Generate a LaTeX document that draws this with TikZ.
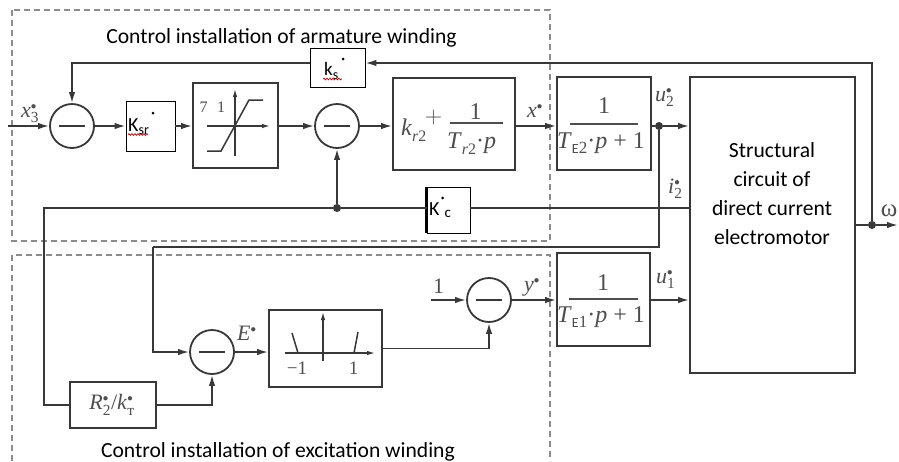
\documentclass[tikz,border=0pt]{standalone}
\usepackage{fix-cm}
\usepackage{amsmath}
\usepackage{fontspec}
\setmainfont{Liberation Serif}
\newfontfamily\calib{Carlito}
\usetikzlibrary{arrows.meta,decorations.pathmorphing}
\definecolor{ink}{HTML}{383838}
\definecolor{typeset}{HTML}{4E4E4E}
\definecolor{frame}{HTML}{8C8C8C}
\newcommand\sd{{\scriptscriptstyle\bullet}}
\newcommand\fs[1]{\fontsize{#1}{#1}\selectfont}

\begin{document}
\begin{tikzpicture}[x=1pt,y=-1pt,
  wire/.style={draw=ink,line width=1.7pt},
  sig/.style={wire,-{Latex[length=11pt,width=6.5pt]}},
  small sig/.style={draw=ink,line width=1.3pt,-{Latex[length=8pt,width=4.5pt]}},
  blockbox/.style={rectangle,draw=ink,line width=1.8pt,inner sep=0pt},
  gainbox/.style={rectangle,draw=black,fill=white,line width=0.8pt,inner sep=0pt},
  sumnode/.style={circle,draw=ink,line width=1.8pt,minimum size=44pt,inner sep=0pt,
    path picture={\draw[ink,line width=2.3pt]
      ([xshift=-13pt]path picture bounding box.center) --
      ([xshift=13pt]path picture bounding box.center);}},
  junction/.style={circle,fill=ink,inner sep=0pt,minimum size=8pt},
  zone/.style={draw=frame,line width=1.1pt,dash pattern=on 6pt off 4pt},
  mlbl/.style={text=typeset,inner sep=0pt,font=\fs{22}},
  blk/.style={text=typeset,inner sep=0pt,font=\fs{24}},
  callbl/.style={text=black,inner sep=0pt,font=\calib\fs{21.6}},
  calk/.style={text=black,inner sep=0pt,font=\calib\fs{20}},
  fracbar/.style={draw=typeset,line width=1.3pt},
  squiggle/.style={draw=red!75!black,line width=0.7pt,decorate,
    decoration={snake,amplitude=0.9pt,segment length=3pt}}
]
\useasboundingbox (0,0) rectangle (899,461);
\fill[white] (0,0) rectangle (899,461);

% ---- dashed outlines of the two control installations
\draw[zone] (12,10) rectangle (550,241);
\draw[zone] (12,461) -- (12,255) -- (550,255) -- (550,461);
\node[callbl,anchor=base] (armlbl) at (281.5,43) {Control installation of armature winding};
\node[callbl,anchor=base] (exclbl) at (278,457) {Control installation of excitation winding};

% ---- blocks
\node[blockbox,minimum width=85pt,minimum height=85pt] (sat) at (235.5,125.5) {};
\node[blockbox,minimum width=122pt,minimum height=92pt] (pi) at (454,124) {};
\node[blockbox,minimum width=94pt,minimum height=93pt] (te2) at (604,123.5) {};
\node[blockbox,minimum width=165pt,minimum height=296pt] (motor) at (772.5,225) {};
\node[blockbox,minimum width=93pt,minimum height=93pt] (te1) at (603.5,299.5) {};
\node[blockbox,minimum width=113pt,minimum height=77pt] (dz) at (325.5,348.5) {};
\node[blockbox,minimum width=86pt,minimum height=46pt] (r2k) at (113,405) {};

% ---- summing junctions
\node[sumnode] (c1) at (72,126) {};
\node[sumnode] (c2) at (337,126) {};
\node[sumnode] (c3) at (212,352) {};
\node[sumnode] (c4) at (489,300) {};

% ---- branch points
\node[junction] (u2dot) at (659,126) {};
\node[junction] (idot) at (337,208) {};
\node[junction] (wdot) at (872,225) {};
\coordinate (xin) at (8,126);
\coordinate (ktop) at (872,63);
\coordinate (ibend) at (44,208);
\coordinate (fbr) at (659,247);
\coordinate (fbl) at (153,247);
\coordinate (onein) at (431,300);
\coordinate (wout) at (898,225);

% ---- gain boxes drawn over the wires
\node[gainbox,minimum width=55pt,minimum height=39pt] (ks) at (337.5,67.5) {};
\node[gainbox,minimum width=49pt,minimum height=50pt] (ksr) at (150.5,126) {};
\node[gainbox,minimum width=43pt,minimum height=46pt] (kc) at (448.5,210) {};
\draw[black,line width=2.6pt] (kc.north west) -- (kc.south west);

% ---- armature channel
\draw[sig] (xin) -- (c1.west);
\draw[sig] (c1.east) -- (ksr.west);
\draw[sig] (ksr.east) -- (sat.west |- ksr.east);
\draw[sig] (sat.east |- c2) -- (c2.west);
\draw[sig] (c2.east) -- (c2.east -| pi.west);
\draw[sig] (pi.east |- c2) -- (c2 -| te2.west);
\draw[wire] (te2.east |- c2) -- (u2dot);
\draw[sig] (u2dot) -- (u2dot -| motor.west);

% speed feedback over the top
\draw[sig] (wdot) -- (ktop) -- (ks.east |- ktop);
\draw[sig] (ks.west |- ktop) -| (c1.north);

% speed output
\draw[wire] (motor.east |- wdot) -- (wdot);
\draw[sig] (wdot) -- (wout);

% current feedback
\draw[wire] (motor.west |- idot) -- (kc.east |- idot);
\draw[wire] (kc.west |- idot) -- (idot) -- (ibend) |- (r2k.west);
\draw[sig] (idot) -- (c2.south);

% ---- excitation channel
\draw[wire] (u2dot) -- (fbr) -- (fbl);
\draw[sig] (fbl) |- (c3.west);
\draw[sig] (r2k.east) -| (c3.south);
\draw[sig] (c3.east) -- (c3.east -| dz.west);
\draw[sig] (dz.east) -| (c4.south);
\draw[sig] (onein) -- (c4.west);
\draw[sig] (c4.east) -- (c4.east -| te1.west);
\draw[sig] (te1.east |- c4) -- (c4 -| motor.west);

% ---- saturation characteristic
\draw[small sig] (207,126) -- (270,126);
\draw[small sig] (235,156) -- (235,89);
\draw[wire,line width=1.5pt] (207,151) -- (221,151) -- (249,100) -- (263,100);
\node[text=typeset,inner sep=0pt,font=\fs{16}] (satseven) at (203.5,107) {7};
\node[text=typeset,inner sep=0pt,font=\fs{16}] (satone) at (221,107) {1};

% ---- dead-zone characteristic
\draw[small sig] (285,353) -- (375,353);
\draw[small sig] (323,361) -- (323,312);
\draw[wire,line width=1.5pt] (292,333) -- (298,353);
\draw[wire,line width=1.5pt] (354,353) -- (358,332);
\node[text=typeset,inner sep=0pt,font=\fs{19}] (dzm) at (297,368) {−1};
\node[text=typeset,inner sep=0pt,font=\fs{19}] (dzp) at (353.5,368) {1};

% ---- PI controller
\node[blk,anchor=base west] (pik) at (401,135) {\textit{k}\raisebox{-6pt}{\fs{16}\textit{r}2}};
\node[blk] (piplus) at (433.5,117) {$+$};
\node[blk] (pinum) at (475.5,112) {1};
\draw[fracbar] (450,123) -- (503,123);
\node[blk,anchor=base west] (piden) at (447,148) {\textit{T}\raisebox{-6pt}{\fs{16}\textit{r}2}·\textit{p}};

% ---- converters
\node[blk] (te2num) at (604,106) {1};
\draw[fracbar] (570,124) -- (638,124);
\node[blk,anchor=base west] (te2den) at (557,148) {\textit{T}\raisebox{-5pt}{\calib\fs{14}E}\raisebox{-5pt}{\fs{17}2}·\textit{p} + 1};
\node[blk] (te1num) at (603,283) {1};
\draw[fracbar] (569,299) -- (638,299);
\node[blk,anchor=base west] (te1den) at (557,322) {\textit{T}\raisebox{-5pt}{\calib\fs{14}E}\raisebox{-5pt}{\fs{17}1}·\textit{p} + 1};

% ---- current gain block
\node[mlbl,anchor=center] (r2ktext) at (112,405) {\textit{R}$^{\sd}_{\text{2}}$/\textit{k}$^{\sd}_{\text{т}}$};

% ---- motor
\node[callbl,align=center,font=\calib\fontsize{21.6}{29}\selectfont] (motortext) at (772,194)
  {Structural\\circuit of\\direct current\\electromotor};

% ---- gain box captions
\node[calk,anchor=base west] (ksrtext) at (128,131) {K\raisebox{-3pt}{\fs{14}sr}};
\fill[black] (153,113) circle (1.5pt);
\draw[squiggle] (128,134.5) -- (148,134.5);
\node[calk,anchor=base west,font=\calib\fs{19}] (kstext) at (324,75) {k\raisebox{-4pt}{\fs{14}s}};
\fill[black] (343,59) circle (1.5pt);
\draw[squiggle] (323,79) -- (342,79);
\node[calk,anchor=base west] (kctext) at (429,215) {K\kern5pt\raisebox{-2.5pt}{\fs{15}c}};
\fill[black] (442.5,198) circle (1.5pt);

% ---- signal labels
\node[mlbl,anchor=base west] (x3lbl) at (21,117) {\textit{x}$^{\sd}_{\text{3}}$};
\node[mlbl,anchor=base west] (xlbl) at (527,117) {\textit{x}$^{\sd}$};
\node[mlbl,anchor=base west] (u2lbl) at (655,101) {\textit{u}$^{\sd}_{\text{2}}$};
\node[mlbl,anchor=base west] (i2lbl) at (668,193) {\textit{i}$^{\sd}_{\text{2}}$};
\node[mlbl,anchor=base west] (u1lbl) at (656,283) {\textit{u}$^{\sd}_{\text{1}}$};
\node[mlbl,anchor=base west] (ylbl) at (524,291) {\textit{y}$^{\sd}$};
\node[mlbl,anchor=base west] (elbl) at (237,340) {\textit{E}$^{\sd}$};
\node[mlbl] (onelbl) at (438.5,286) {1};
\node[mlbl,font=\fs{25}] (wlbl) at (889,211) {ω};
\end{tikzpicture}
\end{document}
